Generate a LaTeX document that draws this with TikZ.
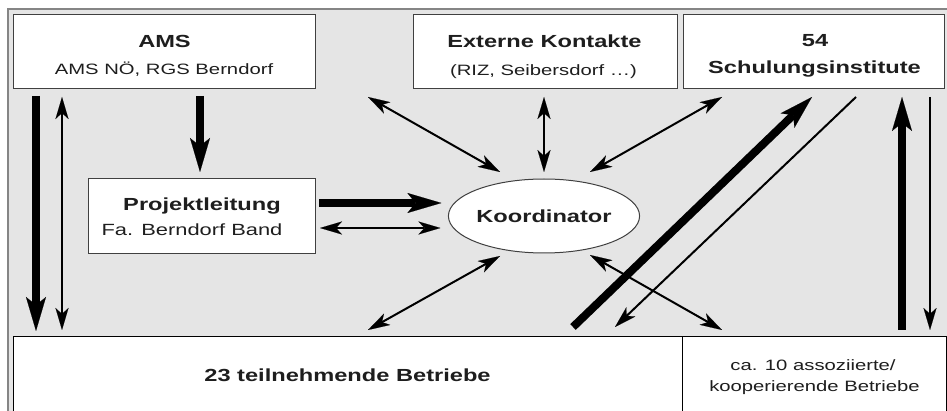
\documentclass[tikz,border=0pt]{standalone}
\usepackage{fontspec}
\setmainfont{Liberation Sans}[FakeStretch=1.35]
\usetikzlibrary{arrows.meta,shapes.geometric}
\definecolor{bg}{HTML}{E5E5E5}
\definecolor{framec}{HTML}{858585}
\definecolor{txt}{HTML}{1E1E1E}
\definecolor{edgec}{HTML}{404040}
\begin{document}
\begin{tikzpicture}[x=1pt,y=-1pt,
  box/.style={rectangle, draw=edgec, line width=1pt, fill=white, inner sep=0pt, outer sep=0pt},
  ttl/.style={font=\fontsize{17.5}{21}\selectfont\bfseries, text=txt, inner sep=0pt, text height=12.5pt, text depth=0pt},
  sub/.style={font=\fontsize{15}{18}\selectfont, text=txt, inner sep=0pt, text height=10.7pt, text depth=0pt},
  bigtip/.tip={Stealth[length=34pt,width=20pt,inset=8pt,line width=0.1pt]},
  smalltip/.tip={Stealth[length=22pt,width=13pt,inset=6pt,line width=0.1pt]},
  thickarr/.style={line width=8pt, -bigtip},
  thinarr/.style={line width=2pt, -smalltip},
  thinboth/.style={line width=2pt, smalltip-smalltip},
]
\useasboundingbox (0,0) rectangle (947,411);
\fill[white] (0,0) rectangle (947,411);
\draw[draw=framec, line width=1.5pt, fill=bg] (8,9) rectangle (965,430);

% boxes
\node[box, minimum width=302pt, minimum height=74pt] (ams) at (164,52) {};
\node[ttl] (amsT) at (164.5,41) {AMS};
\node[sub] (amsS) at (164,69) {AMS NÖ, RGS Berndorf};

\node[box, minimum width=264pt, minimum height=74pt] (ext) at (545,52) {};
\node[ttl] (extT) at (544.5,41) {Externe Kontakte};
\node[sub] (extS) at (543.5,70) {(RIZ, Seibersdorf …)};

\node[box, minimum width=261pt, minimum height=74pt] (schul) at (813.5,52) {};
\node[ttl] (schulT) at (815,40) {54};
\node[ttl] (schulS) at (814.5,67) {Schulungsinstitute};

\node[box, minimum width=227pt, minimum height=75pt] (proj) at (201.5,216.5) {};
\node[ttl] (projT) at (202,204.5) {Projektleitung};
\node[sub, font=\fontsize{16.2}{19}\selectfont, text height=11.6pt] (projS) at (192,230) {Fa. Berndorf Band};

\node[ellipse, draw=edgec, line width=1pt, fill=white, minimum width=148pt, minimum height=74pt, inner sep=0pt, outer sep=0pt, text=txt, font=\fontsize{17.5}{21}\selectfont\bfseries] (koord) at (544,216) {Koordinator};

\node[box, draw=black, minimum width=669pt, minimum height=78pt, text=txt, font=\fontsize{17.5}{21}\selectfont\bfseries] (bottom) at (347.5,375) {23 teilnehmende Betriebe};
\node[box, draw=black, minimum width=264pt, minimum height=78pt] (assoc) at (814,375) {};
\node[sub] (assocA) at (813,365) {ca. 10 assoziierte/};
\node[sub] (assocB) at (814.5,386) {kooperierende Betriebe};

% connectors
\draw[thickarr] ([xshift=23pt,yshift=-7pt]ams.south west) -- ([xshift=23pt,yshift=5pt]bottom.north west);
\draw[thinboth] ([xshift=49pt,yshift=-8pt]ams.south west) -- ([xshift=49pt,yshift=6pt]bottom.north west);
\draw[thickarr] ([xshift=36pt,yshift=-7pt]ams.south) -- ([xshift=-1.5pt,yshift=7pt]proj.north);
\draw[thickarr] ([xshift=4pt,yshift=13.5pt]proj.east) -- ([xshift=-7pt,yshift=13pt]koord.west);
\draw[thinboth] ([xshift=5pt,yshift=-11.5pt]proj.east) -- ([xshift=-8pt,yshift=-12pt]koord.west);
\draw[thinboth] ([xshift=-45pt,yshift=-8pt]ext.south west) -- ([xshift=-44pt,yshift=44pt]koord.center);
\draw[thinboth] ([xshift=-1pt,yshift=-8pt]ext.south) -- ([yshift=7pt]koord.north);
\draw[thinboth] ([xshift=39pt,yshift=-8pt]schul.south west) -- ([xshift=46pt,yshift=44pt]koord.center);
\draw[thinboth] ([xshift=-44pt,yshift=-40pt]koord.center) -- ([xshift=20.5pt,yshift=6pt]bottom.north);
\draw[thinboth] ([xshift=46pt,yshift=-39pt]koord.center) -- ([xshift=40pt,yshift=6pt]assoc.north west);
\draw[thickarr] ([xshift=-109pt,yshift=9pt]bottom.north east) -- ([xshift=-1.5pt,yshift=-8pt]schul.south);
\draw[thinarr] ([xshift=42.5pt,yshift=-8pt]schul.south) -- ([xshift=-67pt,yshift=9pt]bottom.north east);
\draw[thickarr] ([xshift=220pt,yshift=6pt]assoc.north west) -- ([xshift=-42pt,yshift=-8pt]schul.south east);
\draw[thinarr] ([xshift=-14pt,yshift=-8pt]schul.south east) -- ([xshift=-16pt,yshift=6pt]assoc.north east);
\end{tikzpicture}
\end{document}
